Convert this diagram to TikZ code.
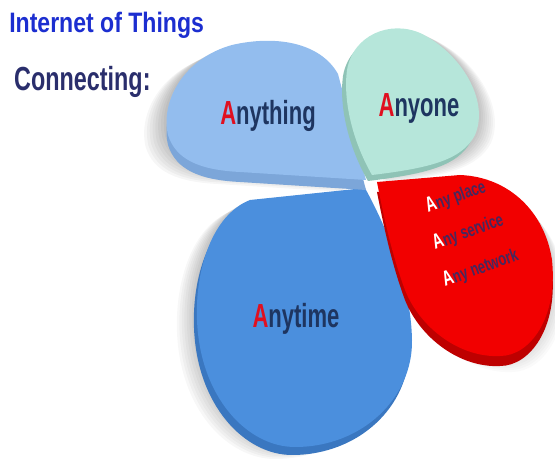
\documentclass[tikz,border=0pt]{standalone}
\usepackage{fontspec}
\setmainfont{Liberation Sans}
\usetikzlibrary{calc}

\definecolor{thingblue}{HTML}{93BDEE}
\definecolor{thingside}{HTML}{7CA6D9}
\definecolor{onemint}{HTML}{B6E6DA}
\definecolor{oneside}{HTML}{8FC3B6}
\definecolor{placered}{HTML}{F20000}
\definecolor{placeside}{HTML}{BE0000}
\definecolor{timeblue}{HTML}{4B8FDD}
\definecolor{timeside}{HTML}{3A77C0}
\definecolor{titleblue}{HTML}{1C2ED0}
\definecolor{headnavy}{HTML}{2A2E6C}
\definecolor{labelnavy}{HTML}{1E3560}
\definecolor{letterred}{HTML}{E01020}
\definecolor{anydark}{HTML}{46285E}

% the four petals, in pixel units (y grows downwards)
\newcommand\timepetal[1]{\fill[#1] (365,188) -- (250,200) .. controls (212,215) and (195,270) .. (197,320) .. controls (200,398) and (248,447) .. (295,447) .. controls (362,447) and (413,398) .. (412,340) .. controls (411,282) and (385,225) .. (365,188) -- cycle;}
\newcommand\placepetal[1]{\fill[#1] (377,182) -- (460,175) .. controls (510,177) and (545,213) .. (552,260) .. controls (558,318) and (530,356) .. (500,356) .. controls (460,358) and (420,328) .. (405,290) .. controls (392,255) and (384,218) .. (377,182) -- cycle;}
\newcommand\thingpetal[1]{\fill[#1] (366,180) -- (338,74) .. controls (320,42) and (275,35) .. (232,45) .. controls (185,58) and (160,100) .. (168,135) .. controls (176,160) and (200,170) .. (240,172) -- cycle;}
\newcommand\onepetal[1]{\fill[#1] (372,175) .. controls (352,140) and (343,100) .. (347,70) .. controls (353,35) and (390,20) .. (420,33) .. controls (460,52) and (490,100) .. (475,135) .. controls (462,160) and (430,168) .. (372,175) -- cycle;}

\tikzset{
  headtext/.style={font=\bfseries\fontsize{16}{16}\selectfont, anchor=base west, inner sep=0, transform shape},
  petallabel/.style={font=\bfseries\fontsize{19}{19}\selectfont, text=labelnavy, anchor=base, inner sep=0, xscale=0.66, transform shape},
  anyline/.style={font=\bfseries\fontsize{10.5}{10.5}\selectfont, text=anydark, anchor=base west, inner sep=0, rotate=20, xscale=0.7, transform shape}
}

\begin{document}
\begin{tikzpicture}[x=0.02cm, y=-0.02cm]
	%%%%% START %%%%%
	\useasboundingbox (0,0) rectangle (555,465);
	
	% soft shadows
	\foreach \k in {1,...,8}{
		\timepetal{black, opacity=0.03, shift={(-2.5*\k,1.5*\k)}}
		\thingpetal{black, opacity=0.035, shift={(-2.8*\k,1.5*\k)}}
		\onepetal{black, opacity=0.03, shift={(2*\k,1*\k)}}
		\placepetal{black, opacity=0.02, shift={(1.5*\k,2*\k)}}
	}
	
	% Anytime
	\timepetal{timeside, shift={(-3,8)}}
	\timepetal{timeblue}
	
	% Any place
	\placepetal{placeside, shift={(0,10)}}
	\placepetal{placered}
	
	% Anything
	\thingpetal{thingside, shift={(0,10)}}
	\thingpetal{thingblue}
	
	% Anyone
	\onepetal{oneside, shift={(-4,6)}}
	\onepetal{onemint}
	
	\node[headtext, text=titleblue, xscale=0.82] (title) at (9,33) {Internet of Things};
	\node[headtext, text=headnavy, xscale=0.7, font=\bfseries\fontsize{19}{19}\selectfont] (connecting) at (14,91) {Connecting:};
	
	\node[petallabel] (anything) at (268,125) {{\color{letterred}A}nything};
	\node[petallabel] (anyone) at (419,117) {{\color{letterred}A}nyone};
	\node[petallabel] (anytime) at (296,328) {{\color{letterred}A}nytime};
	
	\node[anyline] (anyplace) at (428,213) {{\color{white}\fontsize{12}{12}\selectfont A}ny place};
	\node[anyline] (anyservice) at (435,250) {{\color{white}\fontsize{12}{12}\selectfont A}ny service};
	\node[anyline] (anynetwork) at (445,287) {{\color{white}\fontsize{12}{12}\selectfont A}ny network};
	
	%%%%% END %%%%%
\end{tikzpicture}
\end{document}
